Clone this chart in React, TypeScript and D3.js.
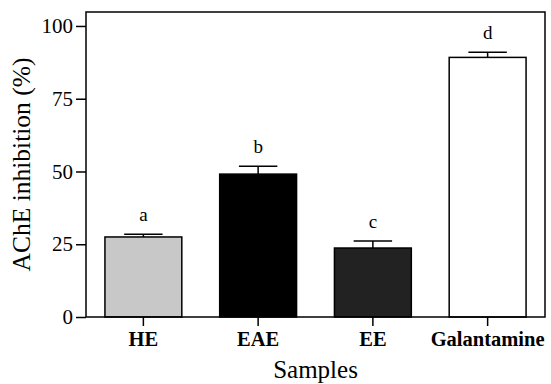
import { useEffect, useRef } from "react";
import * as d3 from "d3";

const samples = ["HE", "EAE", "EE", "Galantamine"];
const inhibition = [27.5, 49.1, 23.7, 89.2];
const errors = [0.9, 2.7, 2.4, 1.8];
const letters = ["a", "b", "c", "d"];
const fills = ["#c8c8c8", "#000000", "#222222", "#ffffff"];
const yTicks = [0, 25, 50, 75, 100];

export default function App() {
  const ref = useRef<SVGSVGElement>(null);

  useEffect(() => {
    const width = 551;
    const height = 384;
    const m = { top: 12, right: 6, bottom: 67, left: 86 };
    const font = "Liberation Serif, DejaVu Serif, Times New Roman, serif";

    const svg = d3.select(ref.current);
    svg.selectAll("*").remove();

    const x = d3
      .scaleBand()
      .domain(samples)
      .range([m.left, width - m.right])
      .paddingInner(0.33)
      .paddingOuter(0.165);
    const y = d3
      .scaleLinear()
      .domain([0, 104.8])
      .range([height - m.bottom, m.top]);

    const data = samples.map((s, i) => ({
      s,
      v: inhibition[i],
      e: errors[i],
      l: letters[i],
      f: fills[i],
    }));

    // bars
    svg
      .selectAll(".bar")
      .data(data)
      .enter()
      .append("rect")
      .attr("x", (d) => x(d.s)!)
      .attr("y", (d) => y(d.v))
      .attr("width", x.bandwidth())
      .attr("height", (d) => y(0) - y(d.v))
      .attr("fill", (d) => d.f)
      .attr("stroke", "#000")
      .attr("stroke-width", 1.5);

    // error bars (upper only)
    const eb = svg.selectAll(".err").data(data).enter().append("g");
    eb.append("line")
      .attr("x1", (d) => x(d.s)! + x.bandwidth() / 2)
      .attr("x2", (d) => x(d.s)! + x.bandwidth() / 2)
      .attr("y1", (d) => y(d.v))
      .attr("y2", (d) => y(d.v + d.e))
      .attr("stroke", "#000")
      .attr("stroke-width", 1.5);
    eb.append("line")
      .attr("x1", (d) => x(d.s)! + x.bandwidth() / 4)
      .attr("x2", (d) => x(d.s)! + (x.bandwidth() * 3) / 4)
      .attr("y1", (d) => y(d.v + d.e))
      .attr("y2", (d) => y(d.v + d.e))
      .attr("stroke", "#000")
      .attr("stroke-width", 1.5);

    // significance letters
    svg
      .selectAll(".letter")
      .data(data)
      .enter()
      .append("text")
      .attr("x", (d) => x(d.s)! + x.bandwidth() / 2)
      .attr("y", (d) => y(d.v + d.e) - 13)
      .attr("text-anchor", "middle")
      .attr("font-family", font)
      .attr("font-size", 19)
      .text((d) => d.l);

    // frame
    svg
      .append("rect")
      .attr("x", m.left)
      .attr("y", m.top)
      .attr("width", width - m.left - m.right)
      .attr("height", height - m.top - m.bottom)
      .attr("fill", "none")
      .attr("stroke", "#000")
      .attr("stroke-width", 1.5);

    // y axis
    const ya = svg
      .append("g")
      .attr("transform", `translate(${m.left},0)`)
      .call(d3.axisLeft(y).tickValues(yTicks).tickSize(10).tickPadding(3));
    ya.select(".domain").remove();
    ya.selectAll("line").attr("stroke-width", 1.5);
    ya.attr("font-family", font).attr("font-size", 21);
    ya.selectAll("text").attr("fill", "#000");

    // x axis
    const xa = svg
      .append("g")
      .attr("transform", `translate(0,${height - m.bottom})`)
      .call(d3.axisBottom(x).tickSize(9).tickPadding(5));
    xa.select(".domain").remove();
    xa.selectAll("line").attr("stroke-width", 1.5);
    xa.attr("font-family", font).attr("font-size", 20.5).attr("font-weight", "bold");
    xa.selectAll("text").attr("fill", "#000");

    // axis titles
    svg
      .append("text")
      .attr("transform", `translate(30,${(m.top + height - m.bottom) / 2}) rotate(-90)`)
      .attr("text-anchor", "middle")
      .attr("font-family", font)
      .attr("font-size", 25.5)
      .text("AChE inhibition (%)");
    svg
      .append("text")
      .attr("x", (m.left + width - m.right) / 2)
      .attr("y", 378)
      .attr("text-anchor", "middle")
      .attr("font-family", font)
      .attr("font-size", 25)
      .text("Samples");
  }, []);

  return (
    <svg
      ref={ref}
      width={551}
      height={384}
      style={{ position: "absolute", left: 0, top: 0, background: "#fff" }}
    />
  );
}
